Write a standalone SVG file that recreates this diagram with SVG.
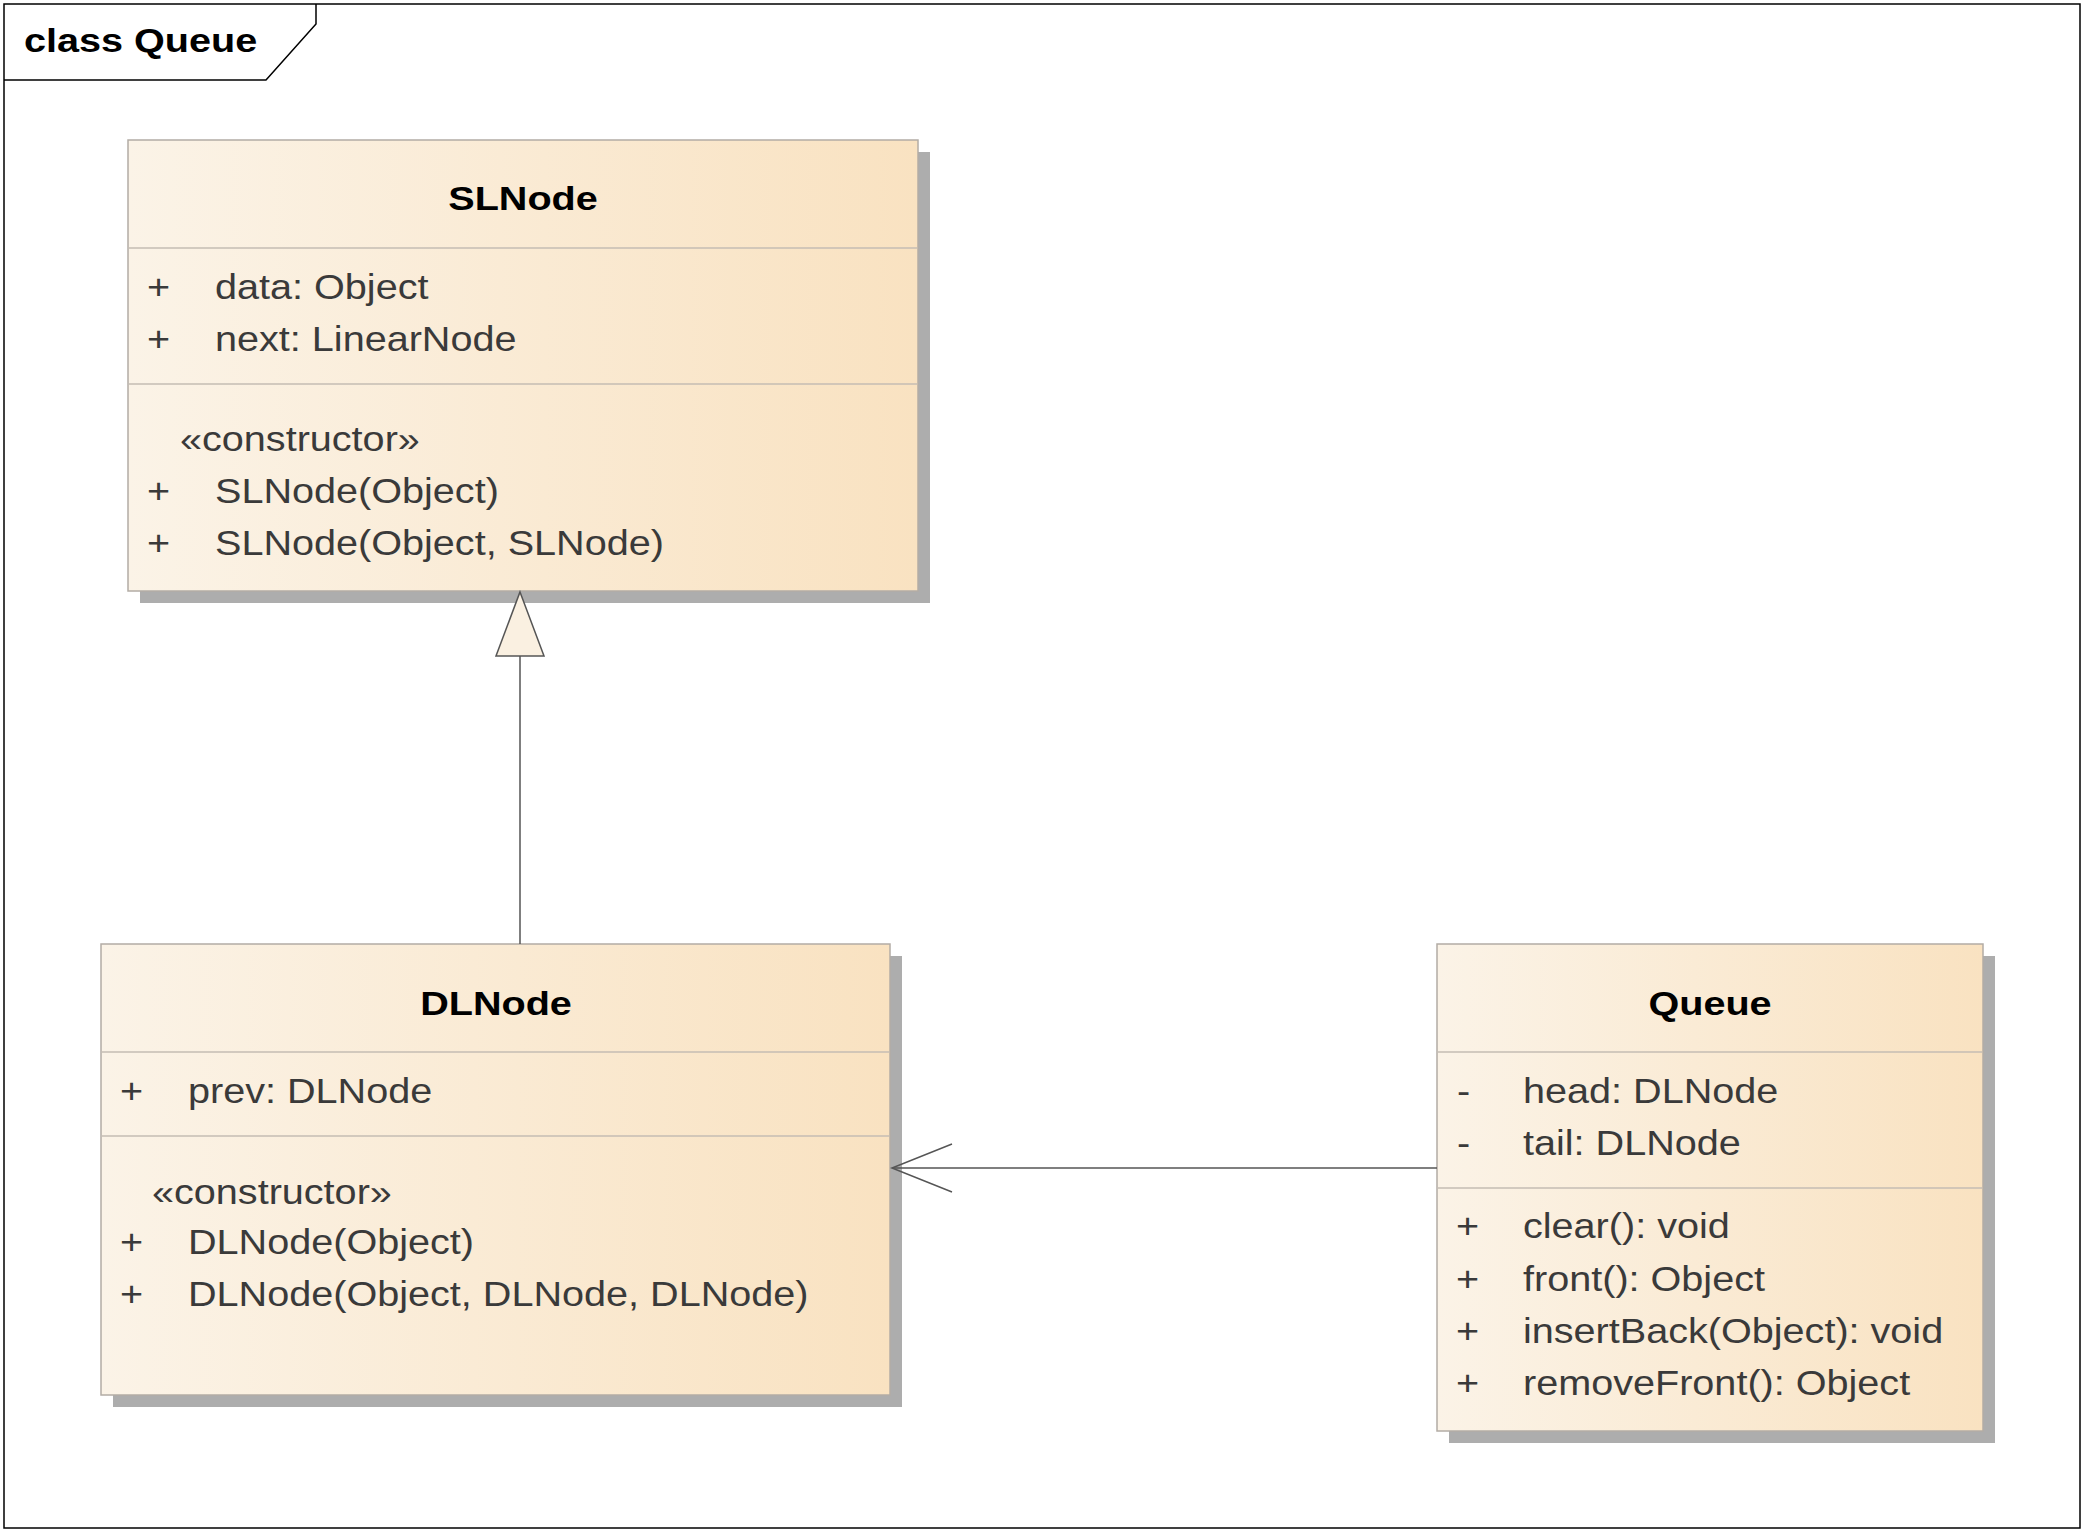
<svg xmlns="http://www.w3.org/2000/svg" width="2084" height="1532" viewBox="0 0 2084 1532">
<style>
.frame{fill:none;stroke:#000;stroke-width:1.5}
.box{stroke:#B3ACA5;stroke-width:1.5}
.shadow{fill:#ADADAD}
.div{stroke:#C4BCB3;stroke-width:1.5}
.m{font-family:"Liberation Sans",Arial,sans-serif;font-size:36px;fill:#3A3A3A}
.t{font-family:"Liberation Sans",Arial,sans-serif;font-size:33px;font-weight:bold;fill:#000}
.con{fill:none;stroke:#555;stroke-width:1.5}
</style>
<defs>
<linearGradient id="g" x1="0" y1="0" x2="1" y2="0">
<stop offset="0" stop-color="#FBF3E7"/>
<stop offset="1" stop-color="#F9E2C1"/>
</linearGradient>
</defs>
<rect width="2084" height="1532" fill="#fff"/>
<g id="frame">
<rect class="frame" x="4" y="4" width="2076" height="1524"/>
<path class="frame" d="M4,80 H266 L316,24 V4"/>
<text class="t" transform="translate(24,52) scale(1.2,1)">class Queue</text>
</g>
<g id="SLNode">
<rect class="shadow" x="140" y="152" width="790" height="451"/>
<rect class="box" x="128" y="140" width="790" height="451" fill="url(#g)"/>
<line class="div" x1="129" y1="248" x2="917" y2="248"/>
<line class="div" x1="129" y1="384" x2="917" y2="384"/>
<text class="t" text-anchor="middle" transform="translate(523,210) scale(1.2,1)">SLNode</text>
<text class="m" transform="translate(147,299) scale(1.1,1)">+</text>
<text class="m" transform="translate(215,299) scale(1.1,1)">data: Object</text>
<text class="m" transform="translate(147,351) scale(1.1,1)">+</text>
<text class="m" transform="translate(215,351) scale(1.1,1)">next: LinearNode</text>
<text class="m" transform="translate(180,451) scale(1.1,1)">«constructor»</text>
<text class="m" transform="translate(147,503) scale(1.1,1)">+</text>
<text class="m" transform="translate(215,503) scale(1.1,1)">SLNode(Object)</text>
<text class="m" transform="translate(147,555) scale(1.1,1)">+</text>
<text class="m" transform="translate(215,555) scale(1.1,1)">SLNode(Object, SLNode)</text>
</g>
<g id="DLNode">
<rect class="shadow" x="113" y="956" width="789" height="451"/>
<rect class="box" x="101" y="944" width="789" height="451" fill="url(#g)"/>
<line class="div" x1="102" y1="1052" x2="889" y2="1052"/>
<line class="div" x1="102" y1="1136" x2="889" y2="1136"/>
<text class="t" text-anchor="middle" transform="translate(496,1015) scale(1.2,1)">DLNode</text>
<text class="m" transform="translate(120,1103) scale(1.1,1)">+</text>
<text class="m" transform="translate(188,1103) scale(1.1,1)">prev: DLNode</text>
<text class="m" transform="translate(152,1204) scale(1.1,1)">«constructor»</text>
<text class="m" transform="translate(120,1254) scale(1.1,1)">+</text>
<text class="m" transform="translate(188,1254) scale(1.1,1)">DLNode(Object)</text>
<text class="m" transform="translate(120,1306) scale(1.1,1)">+</text>
<text class="m" transform="translate(188,1306) scale(1.1,1)">DLNode(Object, DLNode, DLNode)</text>
</g>
<g id="Queue">
<rect class="shadow" x="1449" y="956" width="546" height="487"/>
<rect class="box" x="1437" y="944" width="546" height="487" fill="url(#g)"/>
<line class="div" x1="1438" y1="1052" x2="1982" y2="1052"/>
<line class="div" x1="1438" y1="1188" x2="1982" y2="1188"/>
<text class="t" text-anchor="middle" transform="translate(1710,1015) scale(1.2,1)">Queue</text>
<text class="m" transform="translate(1457,1103) scale(1.1,1)">-</text>
<text class="m" transform="translate(1523,1103) scale(1.1,1)">head: DLNode</text>
<text class="m" transform="translate(1457,1155) scale(1.1,1)">-</text>
<text class="m" transform="translate(1523,1155) scale(1.1,1)">tail: DLNode</text>
<text class="m" transform="translate(1456,1238) scale(1.1,1)">+</text>
<text class="m" transform="translate(1523,1238) scale(1.1,1)">clear(): void</text>
<text class="m" transform="translate(1456,1291) scale(1.1,1)">+</text>
<text class="m" transform="translate(1523,1291) scale(1.1,1)">front(): Object</text>
<text class="m" transform="translate(1456,1343) scale(1.1,1)">+</text>
<text class="m" transform="translate(1523,1343) scale(1.1,1)">insertBack(Object): void</text>
<text class="m" transform="translate(1456,1395) scale(1.1,1)">+</text>
<text class="m" transform="translate(1523,1395) scale(1.1,1)">removeFront(): Object</text>
</g>
<g id="connectors">
<line class="con" x1="520" y1="656" x2="520" y2="944"/>
<polygon points="520,592 544,656 496,656" fill="#FAF0E1" stroke="#555" stroke-width="1.5"/>
<line class="con" x1="1437" y1="1168" x2="893" y2="1168"/>
<polyline class="con" points="952,1144 892,1168 952,1192"/>
</g>
</svg>
